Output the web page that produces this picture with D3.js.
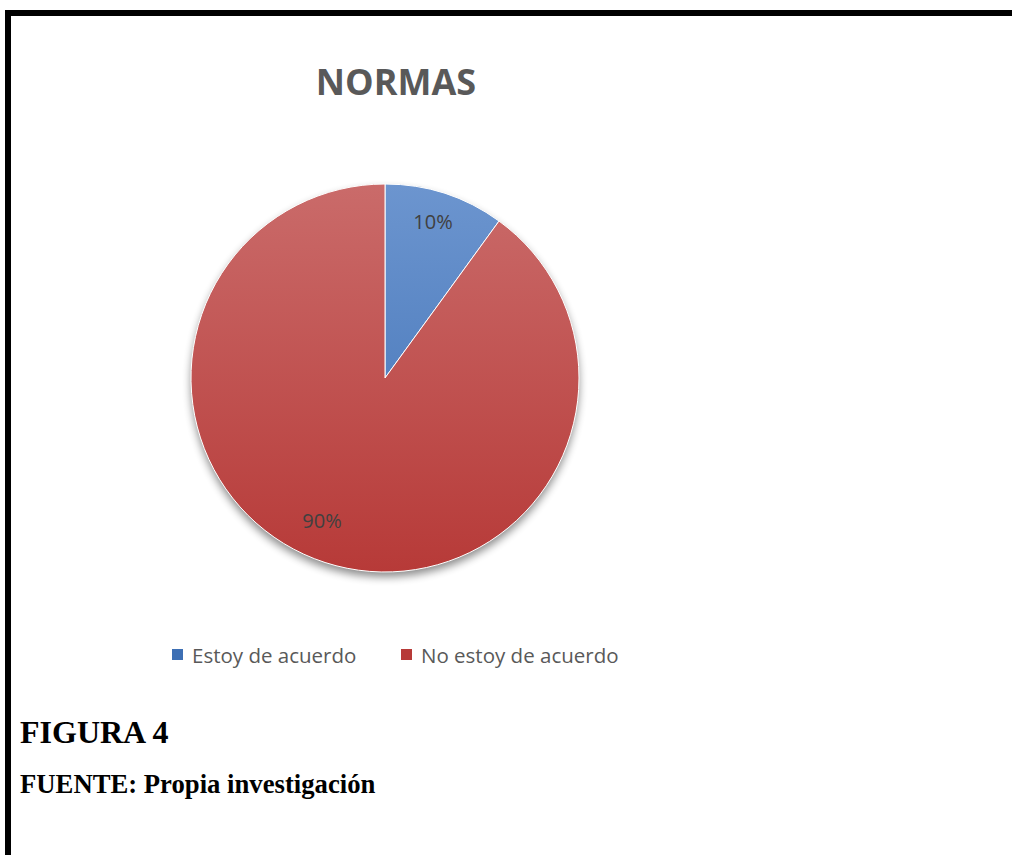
<!DOCTYPE html>
<html>
  <head>
    <meta charset="utf-8">
    <script src="https://d3js.org/d3.v7.min.js"></script>
    <title>Normas</title>
    <style>
      body { margin: 0px; background: #fff; }
      .title { fill: #595959; font-size: 36px; font-weight: bold; font-family: 'Open Sans', Lato, sans-serif; }
      .pct { fill: #404040; font-size: 20px; font-family: 'Open Sans', Lato, sans-serif; }
      .legend-text { fill: #595959; font-size: 20.5px; font-family: 'Open Sans', Lato, sans-serif; }
      .caption { fill: #000; font-weight: bold; font-family: 'Liberation Serif', 'DejaVu Serif', serif; }
    </style>
  </head>
  <body>
    <svg width="1012" height="855"></svg>
    <script>
      const categories = ['Estoy de acuerdo', 'No estoy de acuerdo'];
      const values = [10, 90];
      const labels = ['10%', '90%'];
      const colorsTop = ['#6c95cf', '#ca6b6a'];
      const colorsBottom = ['#3d6fb4', '#b73a38'];

      const svg = d3.select('svg');
      const cx = 385, cy = 378, radius = 194;

      // frame
      svg.append('rect')
        .attr('x', 8).attr('y', 13)
        .attr('width', 1030).attr('height', 880)
        .attr('fill', 'none')
        .attr('stroke', '#000')
        .attr('stroke-width', 6);

      svg.append('text')
        .attr('class', 'title')
        .attr('x', 396).attr('y', 95)
        .attr('text-anchor', 'middle')
        .text('NORMAS');

      const defs = svg.append('defs');
      categories.forEach((c, i) => {
        const grad = defs.append('linearGradient')
          .attr('id', 'grad' + i)
          .attr('gradientUnits', 'userSpaceOnUse')
          .attr('x1', 0).attr('y1', -radius)
          .attr('x2', 0).attr('y2', radius);
        grad.append('stop').attr('offset', '0%').attr('stop-color', colorsTop[i]);
        grad.append('stop').attr('offset', '100%').attr('stop-color', colorsBottom[i]);
      });
      const blur = defs.append('filter').attr('id', 'shadow')
        .attr('x', '-20%').attr('y', '-20%').attr('width', '140%').attr('height', '140%');
      blur.append('feGaussianBlur').attr('stdDeviation', 4);

      const pie = d3.pie().sort(null).value(d => d);
      const arc = d3.arc().innerRadius(0).outerRadius(radius);
      const arcs = pie(values);

      const g = svg.append('g').attr('transform', `translate(${cx},${cy})`);

      // soft shadow under the pie
      g.append('circle')
        .attr('cx', 0).attr('cy', 5)
        .attr('r', radius)
        .attr('fill', '#000')
        .attr('opacity', 0.45)
        .attr('filter', 'url(#shadow)');

      g.selectAll('path.slice').data(arcs)
        .enter().append('path')
          .attr('class', 'slice')
          .attr('d', arc)
          .attr('fill', (d, i) => `url(#grad${i})`)
          .attr('stroke', '#fff')
          .attr('stroke-width', 1);

      const labelPos = [[48, -149], [-63, 150]];
      g.selectAll('text.pct').data(arcs)
        .enter().append('text')
          .attr('class', 'pct')
          .attr('x', (d, i) => labelPos[i][0])
          .attr('y', (d, i) => labelPos[i][1])
          .attr('text-anchor', 'middle')
          .text((d, i) => labels[i]);

      const legendX = [172, 401];
      const legend = svg.append('g').attr('transform', 'translate(0,649)');
      categories.forEach((c, i) => {
        legend.append('rect')
          .attr('x', legendX[i]).attr('y', 0)
          .attr('width', 11).attr('height', 11)
          .attr('fill', colorsBottom[i]);
        legend.append('text')
          .attr('class', 'legend-text')
          .attr('x', legendX[i] + 20).attr('y', 14)
          .text(c);
      });

      svg.append('text')
        .attr('class', 'caption')
        .attr('x', 20).attr('y', 743)
        .style('font-size', '32px')
        .text('FIGURA 4');

      svg.append('text')
        .attr('class', 'caption')
        .attr('x', 20).attr('y', 793)
        .style('font-size', '26.7px')
        .text('FUENTE: Propia investigación');
    </script>
  </body>
</html>
